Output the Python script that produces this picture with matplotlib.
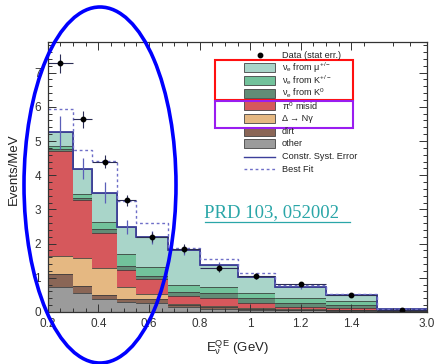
import numpy as np
import matplotlib.pyplot as plt
from matplotlib.lines import Line2D
from matplotlib.patches import Ellipse, Rectangle

plt.rcParams['font.family'] = ['Liberation Sans', 'DejaVu Sans']
plt.rcParams['mathtext.fontset'] = 'custom'
plt.rcParams['mathtext.rm'] = 'Liberation Sans'
plt.rcParams['mathtext.it'] = 'Liberation Sans'

# bin edges (GeV)
edges = [0.2, 0.3, 0.375, 0.475, 0.55, 0.675, 0.8, 0.95, 1.1, 1.3, 1.5, 3.0]

# background components, events/MeV, stacked bottom to top
other = [0.72, 0.56, 0.38, 0.28, 0.25, 0.15, 0.10, 0.07, 0.05, 0.04, 0.010]
dirt = [0.39, 0.20, 0.12, 0.10, 0.13, 0.05, 0.04, 0.03, 0.02, 0.01, 0.005]
delta_ng = [0.52, 0.82, 0.79, 0.35, 0.14, 0.04, 0.03, 0.02, 0.01, 0.01, 0.005]
pi0_misid = [3.07, 1.70, 1.03, 0.50, 0.44, 0.24, 0.24, 0.14, 0.06, 0.05, 0.005]
nue_k0 = [0.06, 0.06, 0.10, 0.10, 0.08, 0.10, 0.15, 0.14, 0.12, 0.09, 0.010]
nue_kpm = [0.09, 0.11, 0.20, 0.37, 0.28, 0.22, 0.17, 0.16, 0.15, 0.12, 0.015]
nue_mu = [0.40, 0.74, 0.87, 0.79, 0.86, 1.00, 0.63, 0.47, 0.31, 0.18, 0.040]

syst_err = [0.47, 0.30, 0.30, 0.20, 0.18, 0.12, 0.10, 0.07, 0.05, 0.04, 0.01]
best_fit = [5.95, 4.75, 4.42, 3.25, 2.60, 1.88, 1.55, 1.14, 0.80, 0.52, 0.10]

data = [7.27, 5.63, 4.40, 3.26, 2.20, 1.85, 1.29, 1.05, 0.81, 0.51, 0.07]
data_err = [0.27, 0.26, 0.20, 0.17, 0.14, 0.14, 0.12, 0.08, 0.07, 0.05, 0.02]

xticks = [0.2, 0.4, 0.6, 0.8, 1.0, 1.2, 1.4, 3.0]
xticklabels = ['0.2', '0.4', '0.6', '0.8', '1', '1.2', '1.4', '3.0']

components = [
    (other, '#9b9b9b', 'other'),
    (dirt, '#8a6656', 'dirt'),
    (delta_ng, '#e5b882', 'Δ → Nγ'),
    (pi0_misid, '#d6585c', r'$\pi^{0}$ misid'),
    (nue_k0, '#628c76', r'$\nu_{e}$ from K$^{0}$'),
    (nue_kpm, '#72c29b', r'$\nu_{e}$ from K$^{+/-}$'),
    (nue_mu, '#a9d5c9', r'$\nu_{e}$ from $\mu^{+/-}$'),
]

W, H = 435, 364


def px(x, y):
    return x / W, 1 - y / H


# last bin (1.5-3.0 GeV) is squeezed on the axis
def fwd(x):
    x = np.asarray(x, dtype=float)
    return np.where(x <= 1.5, x, 1.5 + (x - 1.5) * 0.2 / 1.5)


def inv(u):
    u = np.asarray(u, dtype=float)
    return np.where(u <= 1.5, u, 1.5 + (u - 1.5) * 1.5 / 0.2)


fig = plt.figure(figsize=(4.35, 3.64), dpi=100)
ax = fig.add_axes([0.110, 0.143, 0.872, 0.742])
ax.set_xscale('function', functions=(fwd, inv))

edges = np.array(edges)
centers = 0.5 * (edges[:-1] + edges[1:])
halfw = 0.5 * np.diff(edges)

bottom = np.zeros(len(other))
for vals, col, lab in components:
    top = bottom + np.array(vals)
    ax.stairs(top, edges, baseline=bottom, fill=True, color=col, lw=0)
    ax.stairs(top, edges, baseline=None, color='#3a3a3a', lw=0.7, alpha=0.8)
    bottom = top
total = bottom

# prediction with constrained systematic error
ax.stairs(total, edges, baseline=None, color='#3c3f9a', lw=1.3)
ax.errorbar(centers, total, yerr=syst_err, fmt='none', ecolor='#5a5fb8',
            elinewidth=0.9, capsize=0)

# best fit
ax.stairs(best_fit, edges, baseline=None, color='#6f6fc8', lw=1.0,
          linestyle=(0, (2, 2)))

# data points
ax.errorbar(centers, data, yerr=data_err, xerr=halfw, fmt='o', color='black',
            ms=3.2, ecolor='#2b2d55', elinewidth=0.8, capsize=0)

ax.set_xlim(0.2, 3.0)
ax.set_ylim(0, 7.9)
ax.set_xticks(xticks)
ax.set_xticklabels(xticklabels)
ax.set_xticks(list(np.arange(0.25, 1.5, 0.05)) + [2.0, 2.5], minor=True)
ax.set_yticks(range(0, 8))
ax.set_yticks(np.arange(0, 7.9, 0.2), minor=True)
ax.tick_params(which='both', direction='in', top=True, right=True,
               labelsize=8.5, colors='#333333', width=0.7)
ax.tick_params(which='major', length=6)
ax.tick_params(which='minor', length=3)
ax.tick_params(axis='x', pad=4.5)
ax.tick_params(axis='y', pad=5)
for s in ax.spines.values():
    s.set_linewidth(0.9)
    s.set_color('#333333')

ax.set_xlabel(r'E$_{\nu}^{QE}$ (GeV)', fontsize=9.5, color='#222222')
ax.xaxis.set_label_coords(0.5, -0.095)
ax.set_ylabel('Events/MeV', fontsize=9.5, color='#222222')
ax.yaxis.set_label_coords(-0.075, 0.53)

# legend, one row every 12.7 px
rows = [('marker', 'black', 'Data (stat err.)')]
for vals, col, lab in components[::-1]:
    rows.append(('box', col, lab))
rows.append(('line', '#3c3f9a', 'Constr. Syst. Error'))
rows.append(('dash', '#6f6fc8', 'Best Fit'))
for i, (kind, col, lab) in enumerate(rows):
    yc = 55 + 12.7 * i
    if kind == 'marker':
        fig.add_artist(Line2D([px(260, yc)[0]], [px(260, yc)[1]], marker='o',
                              color=col, ms=3.2, ls='none'))
    elif kind == 'box':
        fig.add_artist(Rectangle(px(244, yc + 4.5), 31 / W, 9 / H,
                                 fc=col, ec='#444444', lw=0.6))
    else:
        ls = '-' if kind == 'line' else (0, (2, 2))
        fig.add_artist(Line2D([244 / W, 275 / W], [px(0, yc)[1]] * 2,
                              color=col, lw=1.0, ls=ls))
    fig.text(*px(282, yc), lab, fontsize=6.6, color='#222222',
             va='center', ha='left')

# reference tag
fig.text(*px(204, 213), 'PRD 103, 052002', fontsize=13.5,
         family='Liberation Serif', color='#2aa6a8', va='center', ha='left')
fig.add_artist(Line2D([205 / W, 350 / W], [px(0, 222)[1]] * 2,
                      color='#2aa6a8', lw=0.9))

# highlight boxes
fig.add_artist(Rectangle(px(215, 100), 138 / W, 40 / H,
                         fill=False, ec='#ff1010', lw=1.5))
fig.add_artist(Rectangle(px(215, 128), 138 / W, 27 / H,
                         fill=False, ec='#9a1df0', lw=1.5))
fig.add_artist(Ellipse(px(100, 185), 152 / W, 356 / H,
                       fill=False, ec='#0000ff', lw=2.6))

fig.savefig('out.png', dpi=100)
